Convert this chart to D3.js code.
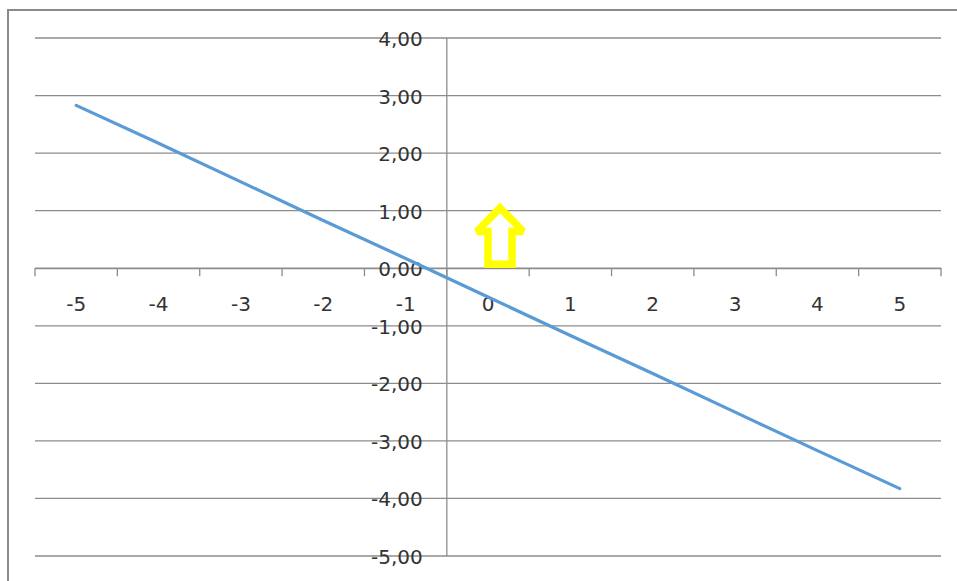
<!DOCTYPE html>
<html>
<head>
<meta charset="utf-8">
<script src="https://cdn.jsdelivr.net/npm/d3@7/dist/d3.min.js"></script>
<style>
  html, body { margin: 0; padding: 0; background: #fff; }
  svg { display: block; }
  text { font-family: "DejaVu Sans", sans-serif; fill: #333; }
</style>
</head>
<body>
<svg id="chart" width="957" height="581"></svg>
<script>
// x categories and the plotted series
const categories = ["-5", "-4", "-3", "-2", "-1", "0", "1", "2", "3", "4", "5"];
const values = [2.83, 2.17, 1.50, 0.83, 0.17, -0.50, -1.17, -1.83, -2.50, -3.17, -3.83];
// value axis ticks
const yTicks = [4, 3, 2, 1, 0, -1, -2, -3, -4, -5];
// arrow marker sitting above the "0" category
const arrowCategory = "0";
const arrowBottom = 0.07;
const arrowNeck = 0.64;
const arrowTip = 1.05;

const W = 957, H = 581;
const plot = { left: 35, right: 941, top: 38, bottom: 556 };
const svg = d3.select("#chart");

// chart frame
svg.append("path")
  .attr("d", `M8,${H}V10H${W}`)
  .attr("fill", "none")
  .attr("stroke", "#8a8a8a")
  .attr("stroke-width", 2);

const x = d3.scaleBand().domain(categories).range([plot.left, plot.right]).padding(0);
const y = d3.scaleLinear().domain([-5, 4]).range([plot.bottom, plot.top]);

// horizontal gridlines
svg.append("g").selectAll("line").data(yTicks).join("line")
  .attr("x1", plot.left).attr("x2", plot.right)
  .attr("y1", d => y(d)).attr("y2", d => y(d))
  .attr("stroke", "#8c8c8c").attr("stroke-width", 1.3);

// vertical value axis between "-1" and "0"
const axisX = x("0");
svg.append("line")
  .attr("x1", axisX).attr("x2", axisX)
  .attr("y1", y(4)).attr("y2", y(-5))
  .attr("stroke", "#8c8c8c").attr("stroke-width", 1.3);

// category axis along y = 0
const xAxis = d3.axisBottom(x).tickSize(8).tickSizeOuter(0);
const gx = svg.append("g").attr("transform", `translate(0,${y(0)})`).call(xAxis);
gx.select(".domain").attr("stroke", "#8c8c8c").attr("stroke-width", 1.3);
gx.selectAll(".tick line").remove();
// ticks at category boundaries
const bounds = categories.map(c => x(c)).concat([plot.right]);
gx.selectAll("line.boundary").data(bounds).join("line")
  .attr("class", "boundary")
  .attr("x1", d => d).attr("x2", d => d)
  .attr("y1", 0).attr("y2", 8)
  .attr("stroke", "#8c8c8c").attr("stroke-width", 1.3);
gx.selectAll(".tick text")
  .attr("y", 0).attr("dy", 0)
  .attr("transform", "translate(0,43)")
  .style("font-size", "20px")
  .style("font-family", "DejaVu Sans, sans-serif")
  .attr("fill", "#333");

// value labels
const fmt = d => d.toFixed(2).replace(".", ",");
svg.append("g").selectAll("text").data(yTicks).join("text")
  .attr("x", axisX - 24)
  .attr("y", d => y(d) + 8)
  .attr("text-anchor", "end")
  .style("font-size", "20px")
  .text(fmt);

// series line
const line = d3.line()
  .x((d, i) => x(categories[i]) + x.bandwidth() / 2)
  .y(d => y(d));
svg.append("path")
  .datum(values)
  .attr("d", line)
  .attr("fill", "none")
  .attr("stroke", "#5b9bd5")
  .attr("stroke-width", 3.2)
  .attr("stroke-linecap", "round");

// yellow outlined up arrow
const ax = x(arrowCategory) + x.bandwidth() / 2 + 12;
const headHalf = 23, shaftHalf = 12;
const arrowPts = [
  [ax, y(arrowTip)],
  [ax + headHalf, y(arrowNeck)],
  [ax + shaftHalf, y(arrowNeck)],
  [ax + shaftHalf, y(arrowBottom)],
  [ax - shaftHalf, y(arrowBottom)],
  [ax - shaftHalf, y(arrowNeck)],
  [ax - headHalf, y(arrowNeck)]
];
svg.append("path")
  .attr("d", d3.line()(arrowPts) + "Z")
  .attr("fill", "none")
  .attr("stroke", "#ffff00")
  .attr("stroke-width", 7.5)
  .attr("stroke-linejoin", "miter")
  .attr("stroke-miterlimit", 2);
</script>
</body>
</html>
